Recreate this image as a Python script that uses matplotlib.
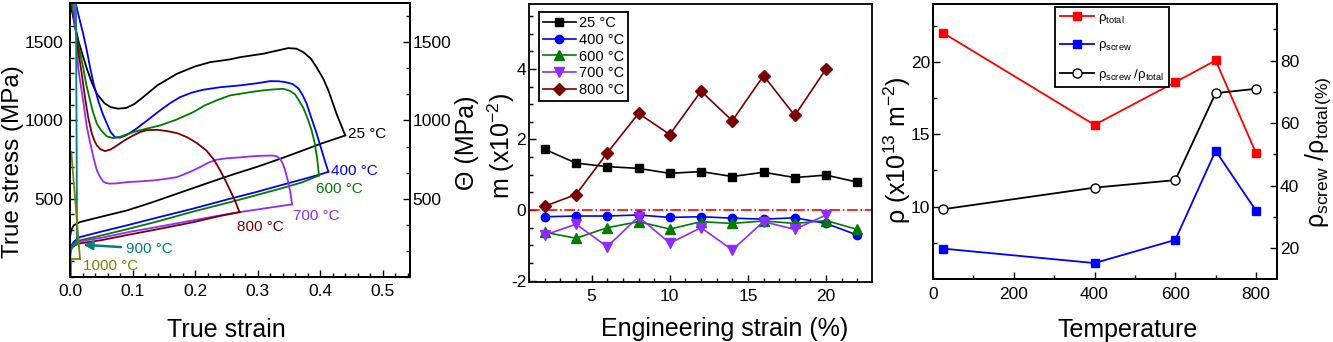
import matplotlib
matplotlib.use('Agg')
import matplotlib.pyplot as plt
from matplotlib.ticker import MultipleLocator, AutoMinorLocator, FormatStrFormatter, FixedLocator

plt.rcParams['font.family'] = ['Liberation Sans', 'DejaVu Sans']
plt.rcParams['mathtext.fontset'] = 'custom'
plt.rcParams['mathtext.rm'] = 'Liberation Sans'
plt.rcParams['mathtext.it'] = 'Liberation Sans:italic'
plt.rcParams['mathtext.bf'] = 'Liberation Sans:bold'
plt.rcParams['axes.unicode_minus'] = False

# ---------------- Panel 1 data: true stress (rising) and Theta (falling) ----------------
s25_x = [0.0, 0.002, 0.006, 0.016, 0.05, 0.091, 0.13, 0.171, 0.22, 0.256, 0.30, 0.336, 0.37, 0.40, 0.44]
s25_y = [255, 300, 330, 351, 385, 425, 475, 532, 600, 649, 705, 755, 805, 850, 904]
t25_x = [0.001, 0.007, 0.014, 0.02, 0.027, 0.035, 0.043, 0.055, 0.065, 0.077, 0.09, 0.103, 0.117, 0.14,
         0.171, 0.2, 0.224, 0.256, 0.272, 0.309, 0.33, 0.349, 0.362, 0.373, 0.385, 0.394, 0.405, 0.413, 0.426, 0.44]
t25_y = [1745, 1620, 1500, 1420, 1330, 1240, 1170, 1110, 1085, 1075, 1080, 1105, 1149, 1225,
         1298, 1345, 1372, 1390, 1404, 1426, 1445, 1462, 1458, 1436, 1395, 1340, 1265, 1192, 1043, 904]

s400_x = [0.0, 0.002, 0.006, 0.016, 0.05, 0.091, 0.14, 0.197, 0.256, 0.30, 0.336, 0.37, 0.40, 0.413]
s400_y = [170, 200, 225, 255, 290, 330, 380, 437, 500, 545, 585, 622, 655, 672]
t400_x = [0.009, 0.015, 0.021, 0.027, 0.032, 0.038, 0.045, 0.052, 0.059, 0.065, 0.072, 0.08, 0.09, 0.107,
          0.125, 0.144, 0.16, 0.176, 0.195, 0.213, 0.24, 0.272, 0.30, 0.320, 0.334, 0.344, 0.356, 0.365,
          0.372, 0.378, 0.383, 0.388, 0.394, 0.400, 0.406, 0.413]
t400_y = [1750, 1650, 1554, 1445, 1340, 1230, 1128, 1045, 979, 925, 893, 890, 905, 950,
          1005, 1064, 1110, 1149, 1178, 1196, 1212, 1224, 1238, 1251, 1250, 1245, 1232, 1205,
          1160, 1110, 1050, 990, 920, 840, 760, 672]

s600_x = [0.0, 0.002, 0.006, 0.016, 0.05, 0.091, 0.14, 0.197, 0.256, 0.30, 0.336, 0.37, 0.398]
s600_y = [165, 195, 215, 234, 265, 305, 355, 418, 478, 525, 564, 603, 648]
t600_x = [0.003, 0.008, 0.014, 0.021, 0.026, 0.032, 0.037, 0.043, 0.05, 0.059, 0.069, 0.08, 0.09, 0.101,
          0.12, 0.144, 0.17, 0.197, 0.215, 0.234, 0.256, 0.272, 0.29, 0.309, 0.325, 0.341, 0.352, 0.360,
          0.367, 0.373, 0.380, 0.386, 0.391, 0.395, 0.398]
t600_y = [1750, 1596, 1470, 1340, 1230, 1128, 1050, 979, 935, 898, 887, 895, 910, 925,
          945, 968, 1005, 1053, 1095, 1128, 1160, 1170, 1182, 1192, 1198, 1202, 1188, 1165,
          1120, 1080, 1010, 940, 860, 760, 648]

s700_x = [0.0, 0.002, 0.006, 0.016, 0.05, 0.091, 0.14, 0.197, 0.256, 0.309, 0.355]
s700_y = [165, 190, 210, 228, 250, 285, 320, 362, 405, 437, 464]
t700_x = [0.006, 0.010, 0.013, 0.017, 0.021, 0.024, 0.027, 0.032, 0.035, 0.039, 0.043, 0.048, 0.053, 0.058,
          0.064, 0.075, 0.091, 0.11, 0.133, 0.15, 0.171, 0.19, 0.208, 0.22, 0.234, 0.25, 0.272, 0.288,
          0.305, 0.322, 0.33, 0.336, 0.340, 0.344, 0.348, 0.352, 0.355]
t700_y = [1750, 1540, 1340, 1230, 1128, 1040, 957, 860, 808, 740, 681, 640, 610, 600,
          596, 598, 606, 610, 617, 625, 638, 668, 702, 728, 749, 758, 764, 770,
          774, 776, 772, 755, 725, 681, 620, 545, 464]

s800_x = [0.0, 0.002, 0.006, 0.016, 0.05, 0.091, 0.14, 0.197, 0.24, 0.271]
s800_y = [160, 180, 200, 215, 235, 268, 305, 350, 390, 414]
t800_x = [0.010, 0.014, 0.018, 0.021, 0.025, 0.029, 0.035, 0.039, 0.043, 0.049, 0.056, 0.065, 0.075, 0.088,
          0.101, 0.112, 0.123, 0.14, 0.155, 0.172, 0.187, 0.203, 0.218, 0.23, 0.240, 0.248, 0.256, 0.264, 0.271]
t800_y = [1560, 1420, 1320, 1234, 1120, 1021, 915, 870, 840, 815, 804, 815, 840, 875,
          904, 925, 938, 940, 932, 918, 893, 855, 808, 750, 681, 620, 553, 485, 414]

s900_x = [0.0, 0.001, 0.003, 0.007, 0.0112]
s900_y = [60, 150, 190, 205, 212]
t900_x = [0.0095, 0.0105, 0.0112]
t900_y = [1760, 900, 212]

s1000_x = [0.001, 0.001, 0.016]
s1000_y = [0, 117, 117]
t1000_x = [0.002, 0.016]
t1000_y = [800, 117]

temps1 = ['25 °C', '400 °C', '600 °C', '700 °C', '800 °C', '900 °C', '1000 °C']
colors1 = ['black', '#0000FF', '#007A00', '#8F2BFF', '#7A0000', '#008080', '#808000']
stress_ticks = [500, 1000, 1500]

# ---------------- Panel 2 data ----------------
strain = [2, 4, 6, 8, 10, 12, 14, 16, 18, 20, 22]
m25 = [1.72, 1.33, 1.23, 1.18, 1.04, 1.09, 0.95, 1.07, 0.92, 0.99, 0.79]
m400 = [-0.19, -0.17, -0.17, -0.14, -0.21, -0.19, -0.23, -0.26, -0.22, -0.38, -0.71]
m600 = [-0.63, -0.80, -0.50, -0.33, -0.54, -0.33, -0.38, -0.31, -0.38, -0.30, -0.55]
m700 = [-0.71, -0.40, -1.04, -0.19, -0.94, -0.50, -1.13, -0.33, -0.55, -0.14]
m800 = [0.11, 0.44, 1.62, 2.74, 2.14, 3.37, 2.53, 3.81, 2.68, 4.00]

# ---------------- Panel 3 data ----------------
temperature = [25, 400, 600, 700, 800]
rho_total = [22.0, 15.65, 18.6, 20.1, 13.7]
rho_screw = [7.1, 6.1, 7.7, 13.86, 9.72]
ratio = [32.5, 39.4, 41.8, 69.6, 71.0]
rho_ticks = [10, 15, 20]

W, H = 1333, 342
fig = plt.figure(figsize=(W / 100, H / 100), dpi=100)


def style(ax, labelsize=12.5):
    ax.tick_params(which='both', direction='in', labelsize=labelsize, width=1.0)
    ax.tick_params(which='major', length=5)
    ax.tick_params(which='minor', length=3)
    for s in ax.spines.values():
        s.set_linewidth(1.3)


def box(l, r, t, b):
    return [l / W, 1 - b / H, (r - l) / W, (b - t) / H]


# ---------------- Panel 1 ----------------
ax1 = fig.add_axes(box(70, 410, 3, 277))
stress = [(s25_x, s25_y), (s400_x, s400_y), (s600_x, s600_y), (s700_x, s700_y),
          (s800_x, s800_y), (s900_x, s900_y), (s1000_x, s1000_y)]
theta = [(t25_x, t25_y), (t400_x, t400_y), (t600_x, t600_y), (t700_x, t700_y),
         (t800_x, t800_y), (t900_x, t900_y), (t1000_x, t1000_y)]
for (sx, sy), (tx, ty), c in zip(stress, theta, colors1):
    ax1.plot(sx, sy, color=c, lw=1.3)
    ax1.plot(tx, ty, color=c, lw=1.3)
ax1.set_xlim(0, 0.5435)
ax1.set_ylim(0, 1750)
ax1.xaxis.set_major_locator(MultipleLocator(0.1))
ax1.xaxis.set_minor_locator(AutoMinorLocator(5))
ax1.xaxis.set_major_formatter(FormatStrFormatter('%.1f'))
ax1.yaxis.set_major_locator(FixedLocator(stress_ticks))
ax1.yaxis.set_minor_locator(MultipleLocator(100))
style(ax1)
ax1.tick_params(axis='y', pad=5)
ax1.tick_params(axis='x', pad=5)
ax1.set_xlabel('True strain', fontsize=18, va='top')
ax1.xaxis.set_label_coords(0.459, -0.150)
ax1.set_ylabel('True stress (MPa)', fontsize=17.5)
ax1.yaxis.set_label_coords(-0.136, 0.42)

ax1r = ax1.twinx()
ax1r.set_ylim(0, 1750)
ax1r.yaxis.set_major_locator(FixedLocator(stress_ticks))
ax1r.yaxis.set_minor_locator(MultipleLocator(500 / 3))
style(ax1r)
ax1r.tick_params(axis='y', pad=2)
ax1r.set_ylabel('Θ (MPa)', fontsize=18)
ax1r.yaxis.set_label_coords(1.132, 0.489)

label_pos = [(0.444, 914), (0.418, 676), (0.393, 564), (0.356, 387), (0.267, 319), (0.0895, 181), (0.020, 68)]
for (lx, ly), t, c in zip(label_pos, temps1, colors1):
    ax1.text(lx, ly, t, color=c, fontsize=11, ha='left', va='center')
ax1.annotate('', xy=(0.017, 207), xytext=(0.086, 190),
             arrowprops=dict(arrowstyle='-|>', color='#008080', lw=1.8, mutation_scale=13))

# ---------------- Panel 2 ----------------
ax2 = fig.add_axes(box(529, 872, 4, 282))
ax2.axhline(0, color='red', lw=1.2, ls='-.')
ms = 6
ax2.plot(strain, m25, '-s', color='black', ms=ms, lw=1.2, label='25 °C')
ax2.plot(strain, m400, '-o', color='#0000FF', ms=ms, lw=1.2, label='400 °C')
ax2.plot(strain, m600, '-^', color='#007A00', ms=ms + 0.5, lw=1.2, label='600 °C')
ax2.plot(strain[:10], m700, '-v', color='#8F2BFF', ms=ms + 0.5, lw=1.2, label='700 °C')
ax2.plot(strain[:10], m800, '-D', color='#7A0000', ms=ms, lw=1.2, label='800 °C')
ax2.set_xlim(0.99, 22.94)
ax2.set_ylim(-2.04, 5.84)
ax2.xaxis.set_major_locator(MultipleLocator(5))
ax2.xaxis.set_minor_locator(MultipleLocator(1))
ax2.yaxis.set_major_locator(MultipleLocator(2))
ax2.yaxis.set_minor_locator(MultipleLocator(0.5))
style(ax2)
ax2.tick_params(axis='y', pad=2)
ax2.tick_params(axis='x', pad=5)
ax2.set_xlabel('Engineering strain (%)', fontsize=18, va='top')
ax2.xaxis.set_label_coords(0.569, -0.126)
ax2.set_ylabel('m (x10$^{-2}$)', fontsize=18)
ax2.yaxis.set_label_coords(-0.035, 0.489)
leg2 = ax2.legend(loc='upper left', bbox_to_anchor=(0.029, 0.971), fontsize=10.5,
                  handlelength=2.3, handletextpad=0.2, borderpad=0.25, labelspacing=0.2,
                  borderaxespad=0, fancybox=False, framealpha=1, edgecolor='black')
leg2.get_frame().set_linewidth(1.3)

# ---------------- Panel 3 ----------------
ax3 = fig.add_axes(box(933, 1277, 4, 279))
l1, = ax3.plot(temperature, rho_total, '-s', color='#FF0000', ms=6, lw=1.3,
               label='ρ$_{\\mathrm{total}}$')
l2, = ax3.plot(temperature, rho_screw, '-s', color='#0000FF', ms=6, lw=1.3,
               label='ρ$_{\\mathrm{screw}}$')
ax3.set_xlim(0, 852)
ax3.set_ylim(5, 24)
ax3.xaxis.set_major_locator(MultipleLocator(200))
ax3.xaxis.set_minor_locator(MultipleLocator(100))
ax3.yaxis.set_major_locator(FixedLocator(rho_ticks))
ax3.yaxis.set_minor_locator(FixedLocator([7.5, 12.5, 17.5, 22.5]))
style(ax3)
ax3.tick_params(axis='y', pad=2)
ax3.tick_params(axis='x', pad=5.5)
ax3.set_xlabel('Temperature', fontsize=18, va='top')
ax3.xaxis.set_label_coords(0.567, -0.142)
ax3.set_ylabel('ρ (x10$^{13}$ m$^{-2}$)', fontsize=18)
ax3.yaxis.set_label_coords(-0.058, 0.469)

ax3r = ax3.twinx()
l3, = ax3r.plot(temperature, ratio, '-o', color='black', mfc='white', mec='black', ms=6.5, lw=1.3,
                label='ρ$_{\\mathrm{screw}}$ /ρ$_{\\mathrm{total}}$')
ax3r.set_ylim(10.2, 98.1)
ax3r.yaxis.set_major_locator(MultipleLocator(20))
ax3r.yaxis.set_minor_locator(AutoMinorLocator(2))
style(ax3r)
ax3r.tick_params(axis='y', pad=2)
ax3r.set_ylabel('ρ$_{\\mathrm{screw}}$ /ρ$_{\\mathrm{total}}$$_{(\\%)}$', fontsize=18)
ax3r.yaxis.set_label_coords(1.076, 0.462)
leg3 = ax3r.legend(handles=[l1, l2, l3], loc='upper left', bbox_to_anchor=(0.355, 0.989),
                   fontsize=9.5, handlelength=2.6, handletextpad=0.3, borderpad=0.35,
                   labelspacing=1.0, borderaxespad=0, fancybox=False, framealpha=1,
                   edgecolor='black')
leg3.get_frame().set_linewidth(1.3)

fig.savefig('out.png', dpi=100)
